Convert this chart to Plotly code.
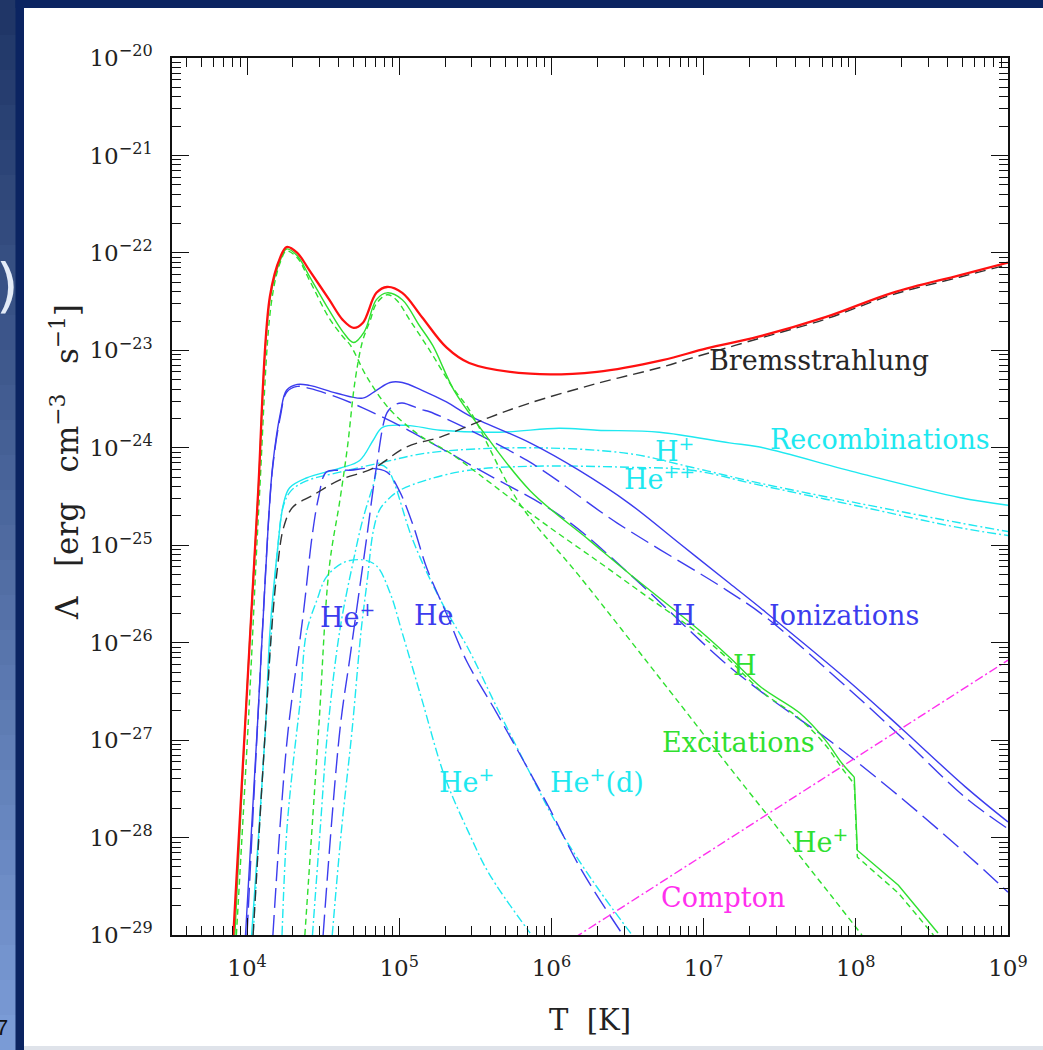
import numpy as np
import plotly.graph_objects as go

# ---------------- data: log10 T [K] and log10 Lambda [erg cm^-3 s^-1] ----------------
total_logT = [3.91, 3.99, 4.07, 4.15, 4.22, 4.26, 4.33, 4.41, 4.54, 4.63, 4.70, 4.76, 4.85, 4.92, 5.02, 5.15,
              5.31, 5.46, 5.86, 6.30, 6.73, 7.02, 7.36, 7.80, 8.24, 8.68, 9.00]
total_logL = [-29.00, -26.77, -24.54, -22.45, -22.04, -21.94, -22.00, -22.18, -22.48, -22.69, -22.77, -22.72,
              -22.41, -22.35, -22.41, -22.66, -22.97, -23.13, -23.24, -23.22, -23.10, -22.98, -22.86, -22.66,
              -22.41, -22.23, -22.10]

exc_logT = [3.92, 3.99, 4.07, 4.15, 4.22, 4.26, 4.33, 4.41, 4.54, 4.63, 4.70, 4.77, 4.85, 4.92, 5.02, 5.13,
            5.22, 5.36, 5.53, 5.86, 6.25, 6.51, 6.97, 7.17, 7.38, 7.63, 7.80, 7.91, 7.99, 8.01, 8.28, 8.54]
exc_logL = [-29.00, -26.77, -24.54, -22.48, -22.07, -21.96, -22.03, -22.24, -22.59, -22.81, -22.92, -22.81,
            -22.48, -22.41, -22.48, -22.74, -22.95, -23.41, -23.79, -24.44, -24.95, -25.29, -25.87, -26.15,
            -26.46, -26.72, -27.00, -27.24, -27.38, -28.13, -28.49, -28.98]

excH_logT = [3.93, 4.01, 4.08, 4.16, 4.22, 4.26, 4.33, 4.41, 4.54, 4.63, 4.68, 4.79, 4.94, 5.15, 5.33, 5.53,
             5.92, 6.31, 6.64, 6.97, 7.17, 7.38, 7.63, 7.80, 7.91, 7.99, 8.01, 8.28, 8.51]
excH_logL = [-29.00, -26.77, -24.54, -22.51, -22.09, -21.98, -22.05, -22.28, -22.67, -22.86, -22.95, -23.28,
             -23.61, -23.89, -24.05, -24.28, -24.74, -25.17, -25.54, -25.91, -26.18, -26.50, -26.78, -27.05,
             -27.29, -27.45, -28.20, -28.57, -29.00]

excHep_logT = [4.38, 4.47, 4.54, 4.61, 4.66, 4.71, 4.76, 4.81, 4.85, 4.92, 4.98, 5.07, 5.20, 5.35, 5.46, 5.79,
               6.18, 6.77, 7.08, 7.48, 7.84, 8.04]
excHep_logL = [-29.00, -26.90, -25.23, -24.54, -23.99, -23.31, -22.90, -22.69, -22.52, -22.43, -22.48, -22.69,
               -23.00, -23.38, -23.61, -24.57, -25.31, -26.48, -27.10, -27.89, -28.60, -29.00]

ion_logT = [3.99, 4.07, 4.14, 4.17, 4.22, 4.26, 4.33, 4.41, 4.59, 4.76, 4.85, 4.94, 5.02, 5.15, 5.31, 5.46,
            5.86, 6.18, 6.51, 6.84, 7.17, 7.41, 7.95, 8.30, 8.72, 9.00]
ion_logL = [-29.00, -26.80, -24.77, -24.16, -23.64, -23.41, -23.35, -23.36, -23.44, -23.49, -23.41, -23.33,
            -23.33, -23.41, -23.53, -23.67, -23.95, -24.23, -24.57, -24.98, -25.39, -25.69, -26.39, -26.88,
            -27.48, -27.84]

ionH_logT = [4.00, 4.07, 4.14, 4.17, 4.22, 4.26, 4.33, 4.41, 4.59, 4.76, 5.00, 5.20, 5.53, 6.07, 6.51, 7.12,
             7.41, 7.84, 8.28, 8.72, 9.00]
ionH_logL = [-29.00, -26.82, -24.79, -24.18, -23.67, -23.43, -23.37, -23.39, -23.48, -23.59, -23.77, -23.94,
             -24.23, -24.71, -25.29, -26.18, -26.54, -27.02, -27.57, -28.16, -28.56]

ionHe_logT = [4.17, 4.22, 4.27, 4.37, 4.43, 4.47, 4.52, 4.61, 4.68, 4.81, 4.92, 5.00, 5.09, 5.18, 5.31, 5.44,
              5.64, 5.97, 6.20, 6.47]
ionHe_logL = [-29.00, -27.82, -26.90, -25.70, -24.88, -24.51, -24.25, -24.23, -24.23, -24.21, -24.25, -24.44,
              -24.79, -25.23, -25.70, -26.18, -26.72, -27.65, -28.34, -29.00]

ionHep_logT = [4.50, 4.61, 4.68, 4.79, 4.85, 4.92, 4.97, 5.02, 5.15, 5.20, 5.84, 6.43, 7.15, 7.41, 7.95, 8.30,
               8.72, 9.00]
ionHep_logL = [-29.00, -26.90, -26.11, -24.88, -24.20, -23.64, -23.56, -23.54, -23.61, -23.63, -24.13, -24.77,
               -25.46, -25.74, -26.47, -26.97, -27.59, -27.91]

rec_logT = [4.03, 4.12, 4.15, 4.20, 4.24, 4.28, 4.39, 4.61, 4.74, 4.83, 4.89, 5.05, 5.27, 5.66, 6.05, 6.30,
            6.71, 7.17, 7.36, 8.02, 8.68, 9.00]
rec_logL = [-29.00, -26.90, -25.90, -25.05, -24.57, -24.41, -24.31, -24.21, -24.13, -23.92, -23.79, -23.77,
            -23.82, -23.84, -23.80, -23.82, -23.84, -23.95, -23.99, -24.26, -24.51, -24.59]

recHp_logT = [4.04, 4.12, 4.16, 4.20, 4.24, 4.29, 4.39, 4.61, 4.89, 5.20, 5.86, 6.51, 6.92, 7.36, 8.02, 8.68, 9.00]
recHp_logL = [-29.00, -26.90, -25.90, -25.05, -24.59, -24.44, -24.34, -24.25, -24.15, -24.05, -24.00, -24.06,
              -24.20, -24.36, -24.57, -24.77, -24.86]

recHepp_logT = [4.56, 4.62, 4.69, 4.75, 4.79, 4.83, 4.87, 4.92, 5.00, 5.18, 5.46, 5.86, 6.51, 6.92, 7.36, 8.02,
                8.68, 9.00]
recHepp_logL = [-29.00, -27.93, -26.90, -25.87, -25.36, -24.85, -24.64, -24.54, -24.44, -24.33, -24.23, -24.19,
                -24.20, -24.23, -24.38, -24.60, -24.82, -24.90]

recHep_logT = [4.23, 4.26, 4.30, 4.35, 4.39, 4.46, 4.52, 4.63, 4.76, 4.85, 4.94, 5.02, 5.15, 5.30, 5.46, 5.59, 5.86]
recHep_logL = [-29.00, -27.96, -27.28, -26.59, -25.90, -25.56, -25.33, -25.18, -25.15, -25.21, -25.49, -25.90,
               -26.59, -27.38, -27.96, -28.37, -28.98]

recHepd_logT = [4.43, 4.48, 4.53, 4.61, 4.70, 4.76, 4.83, 4.87, 4.92, 4.96, 5.09, 5.27, 5.46, 5.64, 5.86, 6.07,
                6.30, 6.53]
recHepd_logL = [-29.00, -27.93, -26.90, -25.87, -25.15, -24.74, -24.38, -24.18, -24.21, -24.33, -24.95, -25.56,
                -26.08, -26.66, -27.34, -27.96, -28.51, -29.00]

brems_logT = [4.04, 4.08, 4.12, 4.16, 4.20, 4.24, 4.30, 4.43, 4.61, 4.83, 5.05, 5.27, 5.59, 5.86, 6.30, 6.73,
              6.92, 7.36, 7.80, 8.24, 8.68, 9.00]
brems_logL = [-29.00, -27.93, -26.90, -25.90, -25.23, -24.82, -24.61, -24.49, -24.33, -24.21, -23.99, -23.89,
              -23.69, -23.54, -23.34, -23.17, -23.08, -22.88, -22.68, -22.43, -22.25, -22.12]

compton_logT = [6.15, 9.00]
compton_logL = [-29.03, -26.18]

x_tickvals = [1e4, 1e5, 1e6, 1e7, 1e8, 1e9]
x_ticktext = ["10<sup>4</sup>", "10<sup>5</sup>", "10<sup>6</sup>", "10<sup>7</sup>", "10<sup>8</sup>", "10<sup>9</sup>"]
y_exps = [-20, -21, -22, -23, -24, -25, -26, -27, -28, -29]
y_tickvals = [10.0 ** e for e in y_exps]
y_ticktext = ["10<sup>\u2212%d</sup>" % (-e) for e in y_exps]

# ---------------- styling ----------------
RED = "#ff1010"
GREEN = "#2fe02f"
BLUE = "#3c3cee"
CYAN = "#1ee8f0"
BLACK = "#333333"
MAGENTA = "#ff30ee"

SHORT = "6px,4px"
MED = "11px,6px"
LONG = "20px,7px"
DOTDASH = "9px,3px,2px,3px"

fig = go.Figure()


def add(logT, logL, color, dash="solid", width=1.4, shape="spline", i0=0, i1=None):
    t = np.array(logT)[i0:i1]
    l = np.array(logL)[i0:i1]
    fig.add_trace(go.Scatter(
        x=10.0 ** t, y=10.0 ** l, mode="lines",
        line=dict(color=color, width=width, dash=dash, shape=shape, smoothing=1.0),
        hoverinfo="skip", showlegend=False))


add(recHep_logT, recHep_logL, CYAN, DOTDASH)
add(recHepd_logT, recHepd_logL, CYAN, DOTDASH)
add(recHepp_logT, recHepp_logL, CYAN, DOTDASH)
add(recHp_logT, recHp_logL, CYAN, DOTDASH)
add(rec_logT, rec_logL, CYAN)
add(ionHe_logT, ionHe_logL, BLUE, LONG)
add(ionHep_logT, ionHep_logL, BLUE, LONG)
add(ionH_logT, ionH_logL, BLUE, LONG)
add(ion_logT, ion_logL, BLUE)
add(excHep_logT, excHep_logL, GREEN, SHORT)
# excitation curves: smooth up to the drop near 1e8 K, straight segments through the drop
add(excH_logT, excH_logL, GREEN, SHORT, i1=26)
add(excH_logT, excH_logL, GREEN, SHORT, shape="linear", i0=25)
add(exc_logT, exc_logL, GREEN, i1=29)
add(exc_logT, exc_logL, GREEN, shape="linear", i0=28)
add(brems_logT, brems_logL, BLACK, MED)
add(compton_logT, compton_logL, MAGENTA, DOTDASH, shape="linear")
add(total_logT, total_logL, RED, width=2.3)

# ---------------- layout helpers (pixel -> paper) ----------------
W, H = 1043, 1050
PL, PR, PT, PB = 172, 1008, 58, 935


def pxx(x):
    return (x - PL) / (PR - PL)


def pxy(y):
    return (PB - y) / (PB - PT)


shapes = []
# slide decoration: gradient strip on the left
c_top = np.array([0x1f, 0x35, 0x66])
c_bot = np.array([0x7c, 0x9d, 0xd8])
n = 30
for i in range(n):
    f = (i + 0.5) / n
    c = (c_top * (1 - f) + c_bot * f).astype(int)
    shapes.append(dict(type="rect", xref="paper", yref="paper", layer="below",
                       x0=pxx(-1), x1=pxx(16), y0=pxy(i * H / n), y1=pxy((i + 1) * H / n + 1),
                       fillcolor="rgb(%d,%d,%d)" % tuple(c), line=dict(width=0)))
shapes.append(dict(type="rect", xref="paper", yref="paper", layer="below",
                   x0=pxx(15.5), x1=pxx(24), y0=pxy(H + 2), y1=pxy(-2),
                   fillcolor="#0b2461", line=dict(width=0)))
shapes.append(dict(type="rect", xref="paper", yref="paper", layer="below",
                   x0=pxx(15.5), x1=pxx(W + 2), y0=pxy(8), y1=pxy(-2),
                   fillcolor="#0b2461", line=dict(width=0)))
shapes.append(dict(type="rect", xref="paper", yref="paper", layer="below",
                   x0=pxx(24), x1=pxx(W + 2), y0=pxy(H + 2), y1=pxy(1046),
                   fillcolor="#dfe3ea", line=dict(width=0)))

LBL = "DejaVu Serif"
ann = []


def label(text, lx, ly, color, size=27):
    ann.append(dict(text=text, x=lx, y=ly, xref="x", yref="y", showarrow=False,
                    font=dict(family=LBL, size=size, color=color), xanchor="center", yanchor="middle"))


label("Bremsstrahlung", 7.76, -23.10, "#262626")
label("Recombinations", 8.16, -23.92, CYAN)
label("H<sup>+</sup>", 6.81, -24.02, CYAN)
label("He<sup>++</sup>", 6.71, -24.31, CYAN)
label("He<sup>+</sup>", 4.66, -25.72, BLUE)
label("He", 5.23, -25.72, BLUE)
label("H", 6.87, -25.72, BLUE)
label("Ionizations", 7.92, -25.72, BLUE)
label("H", 7.27, -26.23, GREEN)
label("Excitations", 7.23, -27.02, GREEN)
label("He<sup>+</sup>", 5.44, -27.41, CYAN)
label("He<sup>+</sup>(d)", 6.30, -27.41, CYAN)
label("He<sup>+</sup>", 7.77, -28.03, GREEN)
label("Compton", 7.13, -28.62, MAGENTA)

# axis titles
NB = "\u00a0"
ann.append(dict(text="T" + NB * 2 + "[K]", x=pxx(590), y=pxy(1020), xref="paper", yref="paper",
                showarrow=False, font=dict(family=LBL, size=29, color="#222222"),
                xanchor="center", yanchor="middle"))
ann.append(dict(text="\u039b" + NB * 3 + "[erg" + NB * 3 + "cm<sup>\u22123</sup>" + NB * 3 + "s<sup>\u22121</sup>]",
                x=pxx(65), y=pxy(462), xref="paper", yref="paper", textangle=-90,
                showarrow=False, font=dict(family=LBL, size=31, color="#222222"),
                xanchor="center", yanchor="middle"))
# slide remnants
ann.append(dict(text=")", x=pxx(7), y=pxy(286), xref="paper", yref="paper", showarrow=False,
                font=dict(family="DejaVu Sans", size=58, color="#e4ebf7"), xanchor="center", yanchor="middle"))
ann.append(dict(text="7", x=pxx(2), y=pxy(1027), xref="paper", yref="paper", showarrow=False,
                font=dict(family="Liberation Sans", size=22, color="#111111"), xanchor="center", yanchor="middle"))

x_minor = [k * 10.0 ** e for e in range(3, 9) for k in range(2, 10) if 10 ** 3.507 < k * 10.0 ** e < 1e9]
y_minor = [k * 10.0 ** e for e in range(-29, -20) for k in range(2, 10)]

axis_common = dict(type="log", showgrid=False, zeroline=False, showline=True, linecolor="#111111",
                   linewidth=1.5, mirror="ticks", ticks="inside", ticklen=17, tickwidth=1.2,
                   tickcolor="#111111", tickfont=dict(family=LBL, size=23, color="#222222"))

fig.update_layout(
    width=W, height=H,
    margin=dict(l=PL, r=W - PR, t=PT, b=H - PB),
    paper_bgcolor="white", plot_bgcolor="white",
    shapes=shapes, annotations=ann,
    xaxis=dict(range=[3.507, 9.0], tickmode="array", tickvals=x_tickvals, ticktext=x_ticktext,
               ticklabelstandoff=12,
               minor=dict(tickmode="array", tickvals=x_minor, ticks="inside", ticklen=9, tickwidth=1,
                          tickcolor="#111111", showgrid=False),
               **axis_common),
    yaxis=dict(range=[-29, -20], tickmode="array", tickvals=y_tickvals, ticktext=y_ticktext,
               ticklabelstandoff=13,
               minor=dict(tickmode="array", tickvals=y_minor, ticks="inside", ticklen=9, tickwidth=1,
                          tickcolor="#111111", showgrid=False),
               **axis_common),
)

fig.write_html("out.html")
